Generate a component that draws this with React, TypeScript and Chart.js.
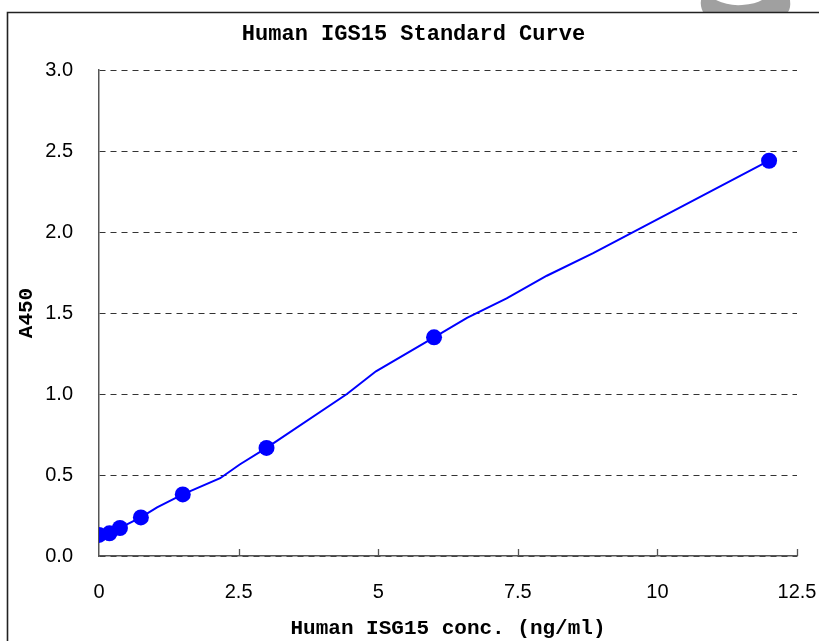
import React, { useEffect, useRef } from "react";
import { Chart, registerables } from "chart.js";

Chart.register(...registerables);

const titleText = "Human IGS15 Standard Curve";
const xTitle = "Human ISG15 conc. (ng/ml)";
const yTitle = "A450";

const concentrations = [0, 0.1875, 0.375, 0.75, 1.5, 3, 6, 12];
const absorbance = [0.13, 0.14, 0.173, 0.238, 0.38, 0.667, 1.35, 2.44];

const fitX = [0, 0.1875, 0.375, 0.75, 1.04, 1.5, 2.17, 2.52, 3, 4.44, 4.96, 6, 6.59, 7.3, 8.02, 8.85, 12];
const fitY = [0.13, 0.14, 0.173, 0.238, 0.3, 0.38, 0.48, 0.565, 0.667, 1.0, 1.14, 1.35, 1.47, 1.59, 1.73, 1.87, 2.44];

const xTickLabels = ["0", "2.5", "5", "7.5", "10", "12.5"];
const yTickLabels = ["0.0", "0.5", "1.0", "1.5", "2.0", "2.5", "3.0"];

const W = 819;
const H = 641;

export default function App() {
  const ref = useRef<HTMLCanvasElement | null>(null);

  useEffect(() => {
    if (!ref.current) return;

    const framePlugin = {
      id: "frame",
      afterLayout(chart: any) {
        const tb = chart.titleBlock;
        if (tb) {
          tb.left = 8;
          tb.right = W;
          tb.width = W - 8;
        }
      },
      beforeDraw(chart: any) {
        const ctx = chart.ctx;
        ctx.save();
        ctx.fillStyle = "#ffffff";
        ctx.fillRect(0, 0, W, H);
        // watermark fragment
        ctx.fillStyle = "#a0a0a0";
        ctx.beginPath();
        ctx.moveTo(701, 0);
        ctx.lineTo(790, 0);
        ctx.quadraticCurveTo(791, 8, 788, 12);
        ctx.lineTo(703, 12);
        ctx.quadraticCurveTo(700, 6, 701, 0);
        ctx.fill();
        ctx.fillStyle = "#ffffff";
        ctx.beginPath();
        ctx.moveTo(716, 0);
        ctx.quadraticCurveTo(728, 6, 742, 5);
        ctx.quadraticCurveTo(756, 4, 762, 0);
        ctx.closePath();
        ctx.fill();
        // outer frame
        ctx.strokeStyle = "#222222";
        ctx.lineWidth = 1.6;
        ctx.beginPath();
        ctx.moveTo(7.5, H + 2);
        ctx.lineTo(7.5, 12.5);
        ctx.lineTo(W + 2, 12.5);
        ctx.stroke();
        ctx.restore();
      },
      afterDraw(chart: any) {
        const ctx = chart.ctx;
        const xs = chart.scales.x;
        const bottom = chart.chartArea.bottom;
        ctx.save();
        ctx.strokeStyle = "#555555";
        ctx.lineWidth = 1.3;
        xs.ticks.forEach((t: any) => {
          if (t.value === 0) return;
          const px = Math.round(xs.getPixelForValue(t.value)) + 0.5;
          ctx.beginPath();
          ctx.moveTo(px, bottom);
          ctx.lineTo(px, bottom - 7);
          ctx.stroke();
        });
        ctx.restore();
      },
    };

    const chart = new Chart(ref.current, {
      type: "scatter",
      data: {
        datasets: [
          {
            label: "fit",
            data: fitX.map((x, i) => ({ x, y: fitY[i] })),
            showLine: true,
            borderColor: "#0000ff",
            borderWidth: 2,
            pointRadius: 0,
            tension: 0,
            order: 2,
          },
          {
            label: "standards",
            data: concentrations.map((x, i) => ({ x, y: absorbance[i] })),
            showLine: false,
            backgroundColor: "#0000ff",
            borderColor: "#0000ff",
            pointRadius: 8,
            pointBorderWidth: 0,
            order: 1,
          },
        ],
      },
      options: {
        animation: false,
        responsive: false,
        devicePixelRatio: 1,
        layout: { padding: { left: 8, right: 0, top: 12, bottom: 0 } },
        plugins: {
          legend: { display: false },
          tooltip: { enabled: false },
          title: {
            display: true,
            text: titleText,
            color: "#000000",
            font: { family: "'Liberation Mono', monospace", size: 22, weight: "bold" },
            padding: { top: 9, bottom: 22.6 },
          },
        },
        scales: {
          x: {
            type: "linear",
            min: 0,
            max: 12.5,
            afterFit(scale: any) {
              scale.height = H - 556;
              scale.paddingRight = 22;
              scale.paddingLeft = 10;
            },
            afterBuildTicks(scale: any) {
              scale.ticks = xTickLabels.map((_, i) => ({ value: i * 2.5 }));
            },
            ticks: {
              color: "#000000",
              padding: 24,
              font: { family: "'Liberation Sans', sans-serif", size: 20 },
              callback: (_v: any, i: number) => xTickLabels[i],
            },
            grid: { display: true, drawOnChartArea: false, drawTicks: false },
            border: { display: true, color: "#555555", width: 1.5 },
            title: {
              display: true,
              text: xTitle,
              color: "#000000",
              font: { family: "'Liberation Mono', monospace", size: 21, weight: "bold" },
              padding: { top: 0, bottom: 0 },
            },
          },
          y: {
            type: "linear",
            min: 0,
            max: 3,
            afterFit(scale: any) {
              scale.width = 99 - 8;
            },
            afterBuildTicks(scale: any) {
              scale.ticks = yTickLabels.map((_, i) => ({ value: i * 0.5 }));
            },
            ticks: {
              color: "#000000",
              padding: 26,
              font: { family: "'Liberation Sans', sans-serif", size: 20 },
              callback: (_v: any, i: number) => yTickLabels[i],
            },
            grid: { color: "#333333", lineWidth: 1, drawTicks: false },
            border: { display: true, color: "#555555", width: 1.5, dash: [6, 5] },
            title: {
              display: true,
              text: yTitle,
              color: "#000000",
              font: { family: "'Liberation Mono', monospace", size: 21, weight: "bold" },
              padding: { top: 6, bottom: 0 },
            },
          },
        },
      },
      plugins: [framePlugin],
    });

    return () => chart.destroy();
  }, []);

  return (
    <div style={{ position: "absolute", left: 0, top: 0, width: W, height: H }}>
      <canvas ref={ref} width={W} height={H} style={{ display: "block" }} />
    </div>
  );
}
